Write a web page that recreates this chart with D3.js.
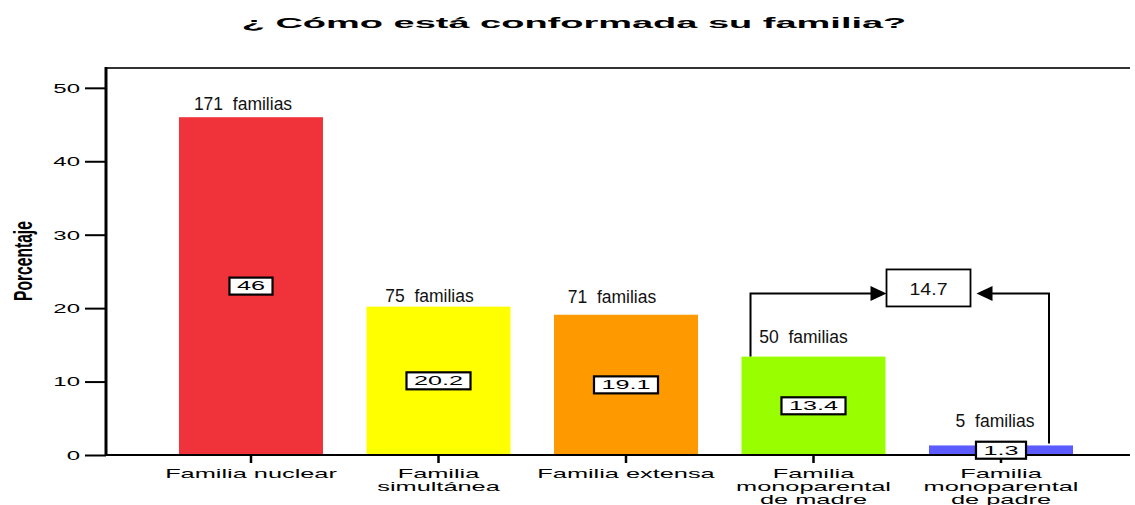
<!DOCTYPE html>
<html>
<head>
<meta charset="utf-8">
<script src="https://cdn.jsdelivr.net/npm/d3@7"></script>
<style>
  body { margin: 0; background: #fff; }
  svg { display: block; font-family: "Liberation Sans", Arial, sans-serif; }
</style>
</head>
<body>
<svg id="chart"></svg>
<script>
// data
const categories = ["Familia nuclear", "Familia\nsimultánea", "Familia extensa",
                    "Familia\nmonoparental\nde madre", "Familia\nmonoparental\nde padre"];
const percentages = [46, 20.2, 19.1, 13.4, 1.3];
const familyCounts = [171, 75, 71, 50, 5];
const barColors = ["#f0333a", "#ffff00", "#ff9900", "#99ff00", "#5b5bff"];
const yTicks = [0, 10, 20, 30, 40, 50];
const combinedBars = [3, 4];   // the two monoparental bars summed in the arrow box

// the count labels were placed by hand, so each has its own nudge [dx, dy]
const countNudge = [[-8, -7], [-9, -5], [-14, -12], [-10, -14], [-6, -18]];

const width = 1135, height = 505;
const axisLeftX = 106, axisRightX = 1130;

const svg = d3.select("#chart").attr("width", width).attr("height", height);

const y = d3.scaleLinear().domain([0, 52.7]).range([455, 68]);
const x = d3.scaleBand()
    .domain(d3.range(categories.length))
    .range([135.5, 1116.5])
    .paddingInner(0.232)
    .paddingOuter(0.232);
const bw = x.bandwidth();
const cx = i => x(i) + bw / 2;

// title (the original is stretched wide)
svg.append("text")
    .attr("transform", "translate(574,28) scale(2.45,1)")
    .attr("text-anchor", "middle")
    .attr("font-size", 15.5)
    .attr("font-weight", "bold")
    .text("¿ Cómo está conformada su familia?");

// y axis title, tall and condensed
svg.append("text")
    .attr("transform", "translate(32,261) rotate(-90) scale(0.6,1)")
    .attr("text-anchor", "middle")
    .attr("font-size", 26)
    .attr("font-weight", "bold")
    .text("Porcentaje");

// bars
svg.append("g")
    .selectAll("rect")
    .data(percentages)
    .join("rect")
    .attr("x", (d, i) => x(i))
    .attr("y", d => y(d))
    .attr("width", bw)
    .attr("height", d => y(0) - y(d))
    .attr("fill", (d, i) => barColors[i]);

// frame lines
svg.append("line")
    .attr("x1", axisLeftX).attr("x2", axisRightX)
    .attr("y1", y.range()[1]).attr("y2", y.range()[1])
    .attr("stroke", "#333").attr("stroke-width", 2);
svg.append("line")
    .attr("x1", axisLeftX).attr("x2", axisRightX)
    .attr("y1", y(0)).attr("y2", y(0))
    .attr("stroke", "#000").attr("stroke-width", 2);

// y axis
const yAxis = svg.append("g")
    .attr("transform", `translate(${axisLeftX},0)`)
    .call(d3.axisLeft(y).tickValues(yTicks).tickSize(21).tickSizeOuter(0))
yAxis.select(".domain").remove();
yAxis.selectAll(".tick line").attr("stroke", "#000").attr("stroke-width", 2);
yAxis.selectAll(".tick text")
    .attr("x", null)
    .attr("dy", "0.36em")
    .attr("transform", "translate(-26,0) scale(2,1)")
    .attr("font-size", 12)
    .attr("fill", "#000");
svg.append("line")
    .attr("x1", axisLeftX).attr("x2", axisLeftX)
    .attr("y1", y.range()[1] - 1).attr("y2", y(0) + 1)
    .attr("stroke", "#000").attr("stroke-width", 3);

// x axis
const xAxis = svg.append("g")
    .attr("transform", `translate(0,${y(0)})`)
    .call(d3.axisBottom(x).tickSize(8).tickSizeOuter(0).tickFormat(i => categories[i]));
xAxis.select(".domain").remove();
xAxis.selectAll(".tick line").attr("stroke", "#000").attr("stroke-width", 2.5);
xAxis.selectAll(".tick text").each(function (i) {
    const t = d3.select(this)
        .attr("y", null).attr("dy", null)
        .attr("transform", "translate(0,23) scale(1.95,1)")
        .attr("font-size", 13)
        .attr("fill", "#000")
        .text(null);
    categories[i].split("\n").forEach((line, k) => {
        t.append("tspan").attr("x", 0).attr("dy", k ? 13 : 0).text(line);
    });
});

// count labels above the bars
svg.append("g")
    .selectAll("text")
    .data(familyCounts)
    .join("text")
    .attr("x", (d, i) => cx(i) + countNudge[i][0])
    .attr("y", (d, i) => y(percentages[i]) + countNudge[i][1])
    .attr("text-anchor", "middle")
    .attr("font-size", 17.5)
    .attr("fill", "#111")
    .style("white-space", "pre")
    .text(d => d + "  familias");

// boxed percentages in the middle of each bar
const valueBoxes = svg.append("g")
    .selectAll("g")
    .data(percentages)
    .join("g")
    .attr("transform", (d, i) => `translate(${cx(i)},${y(d / 2)})`);
valueBoxes.append("rect").attr("class", "box");
valueBoxes.append("text")
    .attr("transform", "scale(2.1,1)")
    .attr("text-anchor", "middle")
    .attr("dy", "0.36em")
    .attr("font-size", 12)
    .text(d => d);
valueBoxes.each(function () {
    const g = d3.select(this);
    const w = g.select("text").node().getBBox().width * 2.1 + 15;
    g.select("rect")
        .attr("x", -w / 2).attr("y", -8.5)
        .attr("width", w).attr("height", 17)
        .attr("fill", "#fff").attr("stroke", "#000").attr("stroke-width", 2.2);
});

// arrow annotation summing the two monoparental bars
const [a, b] = combinedBars;
const level = y(22);
const sumBox = { x: x(a) + bw + 1, w: 84, top: level - 24, h: 37 };
const total = d3.format(".1f")(d3.sum(combinedBars, i => percentages[i]));

const ann = svg.append("g").attr("stroke", "#000").attr("stroke-width", 2).attr("fill", "none");
const leftX = x(a) + 9;
const rightX = x(b) + bw - 24;
ann.append("path")
    .attr("d", `M${leftX},${y(percentages[a])} V${level} H${sumBox.x - 15}`);
ann.append("path")
    .attr("d", `M${rightX},${y(percentages[b]) - 2} V${level} H${sumBox.x + sumBox.w + 21}`);
svg.append("path")
    .attr("d", `M${sumBox.x},${level} l-16,-7.5 v15 z`)
    .attr("fill", "#000");
svg.append("path")
    .attr("d", `M${sumBox.x + sumBox.w + 6},${level} l16,-7.5 v15 z`)
    .attr("fill", "#000");
svg.append("rect")
    .attr("x", sumBox.x).attr("y", sumBox.top)
    .attr("width", sumBox.w).attr("height", sumBox.h)
    .attr("fill", "#fff").attr("stroke", "#000").attr("stroke-width", 1.8);
svg.append("text")
    .attr("transform", `translate(${sumBox.x + sumBox.w / 2},${sumBox.top + 26}) scale(1.15,1)`)
    .attr("text-anchor", "middle")
    .attr("font-size", 17)
    .attr("fill", "#111")
    .text(total);
</script>
</body>
</html>
